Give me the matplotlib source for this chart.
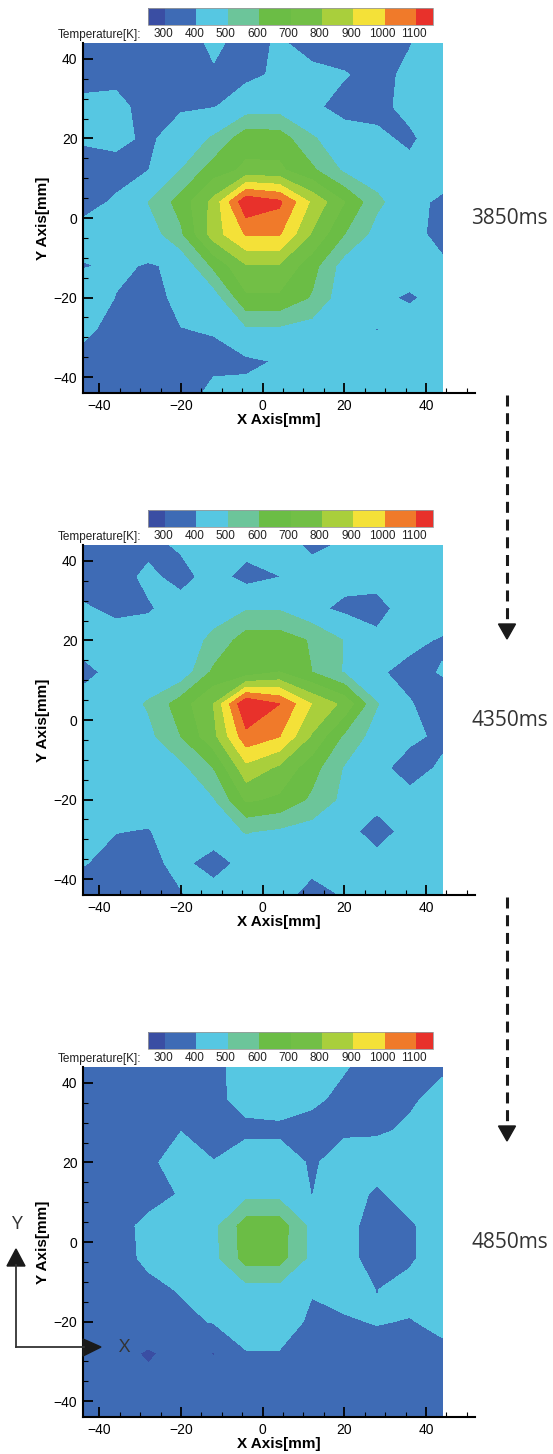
import numpy as np
import matplotlib
matplotlib.use("Agg")
import matplotlib.pyplot as plt
import matplotlib.transforms as mtransforms
from matplotlib.patches import Polygon

# grid of the measurement points [mm]
x_mm = [-44, -36, -28, -20, -12, -4, 4, 12, 20, 28, 36, 44]
y_mm = [44, 36, 28, 20, 12, 4, -4, -12, -20, -28, -36, -44]   # rows, top to bottom

levels = [300, 400, 500, 600, 700, 800, 900, 1000, 1100]
band_colors = ['#3a4ea3', '#3e6bb5', '#56c7e2', '#6cc59a', '#6bbd45',
               '#72bf46', '#a9cf3c', '#f4e138', '#f07a2a', '#e8312b']

x_ticks = [-40, -20, 0, 20, 40]
y_ticks = [-40, -20, 0, 20, 40]
times = ['3850ms', '4350ms', '4850ms']

# temperature [K]
temp_3850 = [
    [360, 350, 350, 360, 415, 370, 410, 370, 360, 360, 395, 450],
    [370, 370, 360, 360, 390, 385, 410, 420, 405, 370, 420, 460],
    [420, 430, 360, 390, 395, 440, 450, 415, 370, 370, 430, 460],
    [405, 420, 385, 440, 510, 660, 650, 510, 440, 420, 380, 460],
    [380, 370, 398, 500, 650, 720, 720, 620, 480, 450, 430, 450],
    [370, 410, 500, 640, 830, 1180, 1120, 880, 700, 520, 430, 380],
    [430, 440, 440, 580, 850, 1010, 1010, 790, 600, 460, 430, 370],
    [395, 410, 395, 410, 620, 790, 790, 640, 450, 450, 480, 415],
    [440, 398, 370, 420, 440, 680, 680, 590, 430, 430, 380, 450],
    [420, 370, 360, 398, 405, 480, 480, 450, 460, 396, 470, 450],
    [370, 350, 350, 370, 380, 385, 405, 450, 450, 430, 450, 450],
    [350, 350, 350, 360, 420, 420, 440, 450, 450, 450, 450, 450],
]

temp_4350 = [
    [350, 350, 380, 410, 430, 430, 440, 380, 410, 440, 450, 450],
    [360, 370, 415, 375, 430, 370, 398, 440, 430, 430, 450, 450],
    [410, 380, 392, 430, 460, 490, 490, 420, 380, 370, 440, 450],
    [440, 440, 440, 450, 520, 650, 650, 590, 495, 420, 420, 390],
    [370, 430, 430, 430, 620, 630, 700, 600, 490, 410, 375, 405],
    [440, 440, 510, 650, 800, 1200, 1100, 895, 770, 505, 405, 360],
    [430, 440, 470, 600, 770, 1068, 1005, 790, 580, 450, 430, 370],
    [440, 440, 440, 470, 600, 868, 780, 640, 490, 440, 340, 420],
    [440, 440, 440, 440, 490, 714, 680, 580, 470, 440, 440, 450],
    [430, 402, 395, 440, 450, 505, 480, 450, 440, 350, 440, 450],
    [405, 370, 380, 420, 360, 430, 440, 425, 440, 440, 450, 450],
    [350, 350, 360, 395, 440, 440, 430, 370, 405, 440, 440, 440],
]

temp_4850 = [
    [350, 350, 350, 360, 380, 430, 440, 440, 405, 370, 360, 390],
    [350, 350, 360, 370, 385, 420, 430, 415, 380, 370, 390, 420],
    [350, 350, 370, 398, 370, 385, 385, 370, 390, 390, 410, 430],
    [350, 360, 380, 440, 402, 440, 440, 390, 430, 440, 440, 450],
    [350, 360, 370, 405, 440, 470, 470, 398, 440, 385, 440, 450],
    [350, 370, 420, 440, 470, 650, 650, 470, 430, 360, 385, 450],
    [350, 370, 415, 440, 470, 640, 640, 470, 430, 360, 385, 450],
    [350, 360, 380, 405, 440, 460, 460, 405, 430, 398, 430, 450],
    [350, 355, 380, 380, 405, 440, 440, 385, 390, 405, 395, 420],
    [350, 340, 285, 340, 295, 395, 395, 370, 370, 360, 370, 380],
    [350, 340, 330, 350, 350, 360, 360, 360, 360, 360, 360, 360],
    [350, 350, 350, 350, 350, 350, 350, 350, 350, 350, 350, 350],
]

snapshots = [temp_3850, temp_4350, temp_4850]

W, H = 553, 1454
fig = plt.figure(figsize=(W / 100, H / 100), dpi=100)
plt.rcParams['font.family'] = ['Liberation Sans', 'DejaVu Sans']


def px_rect(left, top, width, height):
    return [left / W, 1 - (top + height) / H, width / W, height / H]


panel_tops = [43, 545, 1067]
arrow_x = 507

for temp, top, label in zip(snapshots, panel_tops, times):
    ax = fig.add_axes(px_rect(83, top, 392, 350))
    cs = ax.contourf(x_mm, y_mm, np.array(temp), levels=levels,
                     colors=band_colors, extend='both')
    cs.set_edgecolor('face')
    cs.set_linewidth(0.4)
    ax.set_xlim(-44, 52)
    ax.set_ylim(-44, 44)
    for side in ['top', 'right']:
        ax.spines[side].set_visible(False)
    for side in ['left', 'bottom']:
        ax.spines[side].set_linewidth(1.5)
        ax.spines[side].set_zorder(5)
    ax.set_xticks(x_ticks)
    ax.set_yticks(y_ticks)
    ax.set_xticks(np.arange(-40, 55, 5), minor=True)
    ax.set_yticks(np.arange(-40, 45, 5), minor=True)
    ax.tick_params(which='major', direction='in', length=7, width=1.3,
                   labelsize=10, pad=4, zorder=6)
    ax.tick_params(which='minor', direction='in', length=3.5, width=0.8)
    ax.set_xlabel('X Axis[mm]', fontsize=11, fontweight='bold', labelpad=0)
    ax.set_ylabel('Y Axis[mm]', fontsize=11, fontweight='bold')
    ax.yaxis.set_label_coords(-0.084, 0.5)

    # colour legend above each panel
    cax = fig.add_axes(px_rect(148, top - 35, 285, 17))
    cb = fig.colorbar(cs, cax=cax, orientation='horizontal', extend='both',
                      extendrect=True, extendfrac=0.068)
    cb.set_ticks([])
    cb.outline.set_edgecolor('#9a9a9a')
    cb.outline.set_linewidth(0.6)
    shift = mtransforms.ScaledTranslation(-2 / 100, 0, fig.dpi_scale_trans)
    trans = mtransforms.blended_transform_factory(cax.transData, cax.transAxes) + shift
    for v in levels:
        cax.text(v, -0.55, str(v), transform=trans, ha='center', va='center',
                 fontsize=8.5, color='#222222')
    fig.text(141 / W, 1 - (top - 8) / H, 'Temperature[K]:', ha='right',
             va='center', fontsize=8.5, color='#222222')

# overlay in pixel coordinates for labels and arrows
ov = fig.add_axes([0, 0, 1, 1], zorder=10)
ov.set_xlim(0, W)
ov.set_ylim(H, 0)
ov.axis('off')
ov.patch.set_alpha(0)

for top, label in zip(panel_tops, times):
    ov.text(471, top + 175, label, ha='left', va='center', fontsize=15,
            color='#333333', family=['Open Sans', 'DejaVu Sans'])

for top in panel_tops[:2]:
    y0 = top + 352
    tip = y0 + 244
    ov.plot([arrow_x, arrow_x], [y0, tip - 15], color='#1a1a1a', lw=2.2,
            dashes=(3.6, 2.2))
    ov.add_patch(Polygon([[arrow_x - 8.5, tip - 15], [arrow_x + 8.5, tip - 15],
                          [arrow_x, tip]], closed=True, color='#1a1a1a'))

# coordinate system sketch
ov.plot([16, 16], [1347, 1265], color='#333333', lw=1.3)
ov.plot([16, 84], [1347, 1347], color='#333333', lw=1.3)
ov.add_patch(Polygon([[7, 1266], [25, 1266], [16, 1249]], closed=True, color='#1a1a1a'))
ov.add_patch(Polygon([[83, 1339], [83, 1356], [101, 1347]], closed=True, color='#1a1a1a'))
ov.text(16, 1224, 'Y', ha='center', va='center', fontsize=14, color='#333333',
        family=['Open Sans', 'DejaVu Sans'])
ov.text(125, 1347, 'X', ha='center', va='center', fontsize=14, color='#333333',
        family=['Open Sans', 'DejaVu Sans'])

fig.savefig('out.png', dpi=100)
